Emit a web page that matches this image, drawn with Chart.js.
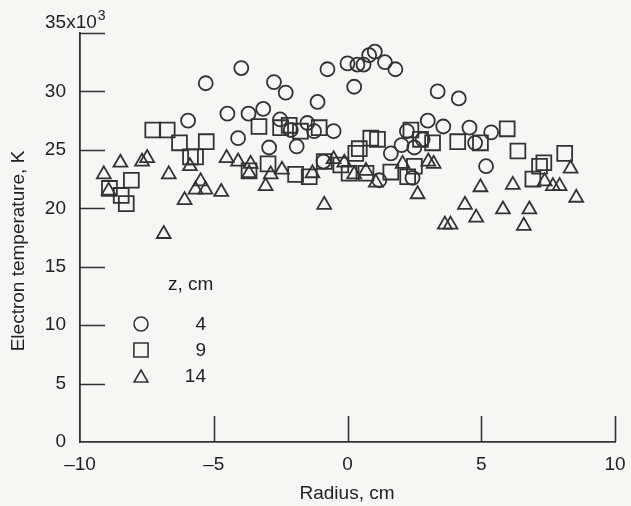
<!DOCTYPE html>
<html>
<head>
<meta charset="utf-8">
<script src="https://cdn.jsdelivr.net/npm/chart.js@4/dist/chart.umd.min.js"></script>
<style>
  html, body { margin: 0; padding: 0; background: #f6f6f5; }
  #wrap { width: 631px; height: 506px; }
</style>
</head>
<body>
<div id="wrap"><canvas id="grafico" width="631" height="506"></canvas></div>
<script>
// datos (radio en cm, temperatura en miles de K)
const zLabels = ['4', '9', '14'];
const xTicks = [-10, -5, 0, 5, 10];
const yTicks = [0, 5, 10, 15, 20, 25, 30, 35];

const z4x = [-5.96, -5.3, -4.49, -4.09, -3.97, -3.7, -3.15, -2.93, -2.75, -2.52, -2.31, -2.12, -1.9, -1.5,
  -1.25, -1.12, -0.9, -0.75, -0.52, 0, 0.25, 0.37, 0.6, 0.81, 1.02, 1.19, 1.4, 1.62, 1.79, 2.02, 2.22,
  2.43, 2.5, 2.81, 3.0, 3.37, 3.58, 4.16, 4.56, 4.77, 5.18, 5.37];
const z4y = [27.5, 30.7, 28.1, 26.0, 32.0, 28.1, 28.5, 25.2, 30.8, 27.6, 29.9, 26.7, 25.3, 27.3,
  26.6, 29.1, 24.0, 31.9, 26.6, 32.4, 30.4, 32.3, 32.3, 33.1, 33.4, 22.4, 32.5, 24.7, 31.9, 25.4, 26.6,
  22.6, 25.2, 25.9, 27.5, 30.0, 27.0, 29.4, 26.9, 25.6, 23.6, 26.5];

const z9x = [-8.9, -8.46, -8.27, -8.08, -7.28, -6.74, -6.28, -5.87, -5.68, -5.28, -3.68, -3.31, -2.97, -2.5,
  -2.18, -1.94, -1.76, -1.43, -1.06, -0.87, -0.25, 0.06, 0.31, 0.44, 0.69, 0.87, 1.12, 1.62, 2.25, 2.37,
  2.5, 2.73, 3.18, 4.12, 4.97, 5.97, 6.37, 6.93, 7.18, 7.34, 8.12];
const z9y = [21.7, 21.1, 20.4, 22.4, 26.7, 26.7, 25.6, 24.4, 24.4, 25.7, 23.2, 27.0, 23.8, 26.9,
  27.1, 22.9, 26.6, 22.7, 26.9, 24.0, 23.7, 23.0, 24.7, 25.1, 23.0, 26.0, 25.9, 23.1, 22.7, 26.7,
  23.6, 25.9, 25.6, 25.7, 25.6, 26.8, 24.9, 22.5, 23.6, 23.9, 24.7];

const z14x = [-9.11, -8.93, -8.49, -7.68, -7.49, -6.87, -6.68, -6.09, -5.89, -5.68, -5.49, -5.31, -4.72, -4.52,
  -4.09, -3.62, -3.68, -3.06, -2.87, -2.45, -1.31, -0.87, -0.52, -0.12, 0.25, 0.69, 1.06, 2.06, 2.62,
  3.02, 3.22, 3.64, 3.85, 4.39, 4.81, 4.97, 5.81, 6.18, 6.59, 6.8, 7.37, 7.68, 7.93, 8.34, 8.55];
const z14y = [22.9, 21.5, 23.9, 24.0, 24.3, 17.8, 22.9, 20.7, 23.6, 21.6, 22.3, 21.6, 21.4, 24.3,
  24.0, 23.8, 23.0, 21.9, 22.9, 23.3, 23.0, 20.3, 24.2, 23.9, 22.9, 23.2, 22.2, 23.8, 21.2,
  24.0, 23.8, 18.6, 18.6, 20.3, 19.2, 21.8, 19.9, 22.0, 18.5, 19.9, 22.3, 21.9, 21.9, 23.4, 20.9];

const ink = '#333333';
const fuente = '"Liberation Sans", Arial, sans-serif';

function puntos(xs, ys) {
  return xs.map((x, i) => ({ x: x, y: ys[i] }));
}

function serie(label, xs, ys, estilo, radio) {
  return {
    label: label,
    data: puntos(xs, ys),
    pointStyle: estilo,
    pointRadius: radio,
    pointHoverRadius: radio,
    borderColor: ink,
    backgroundColor: 'rgba(0,0,0,0)',
    pointBorderWidth: 1.8,
    showLine: false
  };
}

// marcas de las escalas hacia adentro, titulos y leyenda
const extras = {
  id: 'extras',
  afterDraw(chart) {
    const ctx = chart.ctx;
    const xs = chart.scales.x, ys = chart.scales.y;
    const a = chart.chartArea;
    ctx.save();
    ctx.strokeStyle = ink;
    ctx.lineWidth = 1.6;
    ctx.beginPath();
    yTicks.forEach(v => {
      if (v === 0) return;
      const py = Math.round(ys.getPixelForValue(v)) + 0.5;
      ctx.moveTo(a.left, py);
      ctx.lineTo(a.left + 25, py);
    });
    xTicks.forEach(v => {
      if (v === xTicks[0]) return;
      const px = Math.round(xs.getPixelForValue(v)) + 0.5;
      ctx.moveTo(px, a.bottom);
      ctx.lineTo(px, a.bottom - 26);
    });
    ctx.stroke();

    ctx.fillStyle = '#222';
    // titulo del eje y
    ctx.save();
    ctx.translate(19, 251);
    ctx.rotate(-Math.PI / 2);
    ctx.font = '19px ' + fuente;
    ctx.textAlign = 'center';
    ctx.textBaseline = 'middle';
    ctx.fillText('Electron temperature, K', 0, 0);
    ctx.restore();

    // titulo del eje x
    ctx.font = '19px ' + fuente;
    ctx.textAlign = 'center';
    ctx.textBaseline = 'middle';
    ctx.fillText('Radius, cm', 347, 494);

    // 35x10^3
    ctx.textAlign = 'left';
    ctx.textBaseline = 'alphabetic';
    ctx.font = '19px ' + fuente;
    ctx.fillText('35x10', 45, 28);
    const w = ctx.measureText('35x10').width;
    ctx.font = '14px ' + fuente;
    ctx.fillText('3', 45 + w + 1, 20);

    // leyenda
    ctx.font = '19px ' + fuente;
    ctx.fillText('z, cm', 168, 290);
    const estilos = ['circle', 'rect', 'triangle'];
    const radios = [7, 10, 8];
    const filas = [324, 350, 376];
    estilos.forEach((e, i) => {
      ctx.strokeStyle = ink;
      ctx.fillStyle = 'rgba(0,0,0,0)';
      ctx.lineWidth = 1.6;
      const y0 = e === 'triangle' ? filas[i] + 2 : filas[i];
      Chart.helpers.drawPoint(ctx, { pointStyle: e, radius: radios[i], borderWidth: 1.6, rotation: 0 }, 141, y0);
      ctx.fillStyle = '#222';
      ctx.textAlign = 'right';
      ctx.textBaseline = 'middle';
      ctx.fillText(zLabels[i], 206, filas[i] + 1);
    });
    ctx.restore();
  }
};

const ctx = document.getElementById('grafico').getContext('2d');
new Chart(ctx, {
  type: 'scatter',
  data: {
    datasets: [
      serie('4', z4x, z4y, 'circle', 7),
      serie('9', z9x, z9y, 'rect', 10.5),
      serie('14', z14x, z14y, 'triangle', 8)
    ]
  },
  options: {
    responsive: false,
    animation: false,
    layout: { padding: { left: 0, right: 16, top: 33, bottom: 0 } },
    plugins: {
      legend: { display: false },
      tooltip: { enabled: false }
    },
    scales: {
      x: {
        type: 'linear',
        min: -10, max: 10,
        afterBuildTicks: s => { s.ticks = xTicks.map(v => ({ value: v })); },
        afterFit: s => { s.height = 64; s.paddingLeft = 0; s.paddingRight = 0; },
        grid: { display: false, drawTicks: false },
        border: { display: true, color: ink, width: 1.8 },
        ticks: {
          padding: 11,
          color: '#222',
          font: { family: fuente, size: 19 },
          maxRotation: 0,
          callback: v => String(v).replace('-', '\u2013')
        }
      },
      y: {
        type: 'linear',
        min: 0, max: 35,
        afterBuildTicks: s => { s.ticks = yTicks.map(v => ({ value: v })); },
        afterFit: s => { s.width = 80; s.paddingTop = 0; s.paddingBottom = 0; },
        grid: { display: false, drawTicks: false },
        border: { display: true, color: ink, width: 1.8 },
        ticks: {
          padding: 14,
          color: '#222',
          font: { family: fuente, size: 19 },
          callback: v => (v === 35 ? '' : String(v))
        }
      }
    }
  },
  plugins: [extras]
});
</script>
</body>
</html>
